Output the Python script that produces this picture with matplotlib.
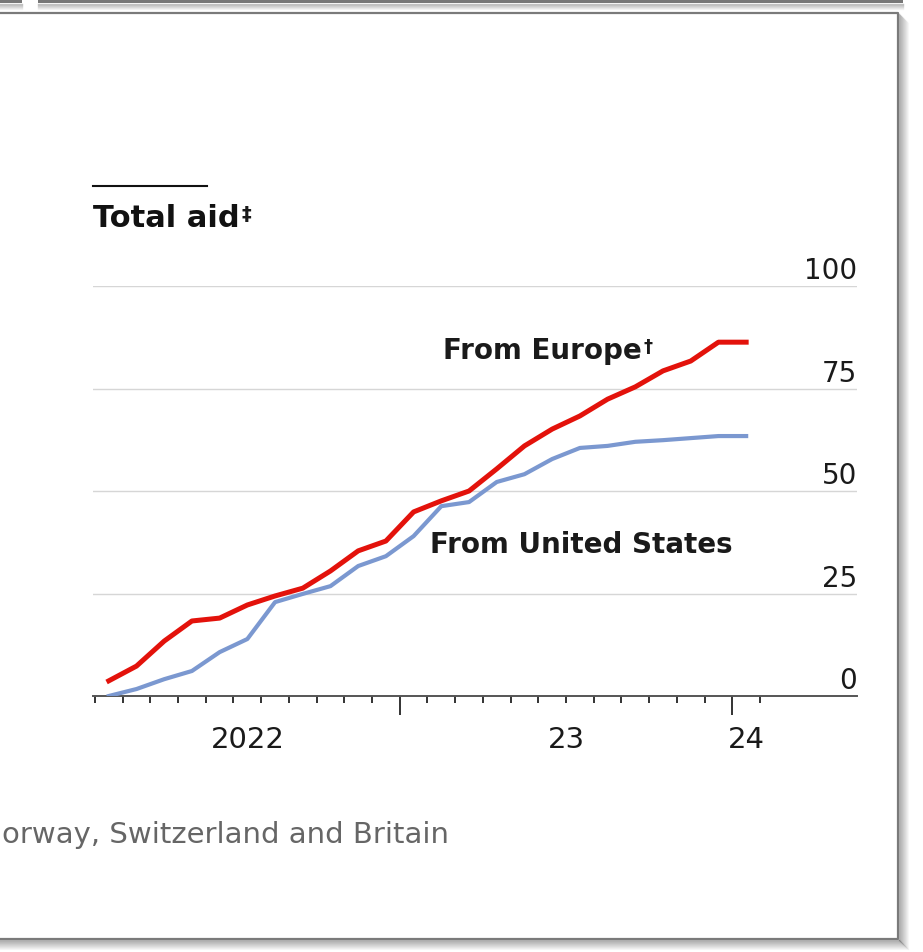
import matplotlib
matplotlib.use("Agg")
import matplotlib.pyplot as plt
from matplotlib.patches import Rectangle

# data: total aid, monthly readings (approx. mid-month)
dates = ["2022-02", "2022-03", "2022-04", "2022-05", "2022-06", "2022-07",
         "2022-08", "2022-09", "2022-10", "2022-11", "2022-12", "2023-01",
         "2023-02", "2023-03", "2023-04", "2023-05", "2023-06", "2023-07",
         "2023-08", "2023-09", "2023-10", "2023-11", "2023-12", "2024-01"]
europe = [3.7, 7.3, 13.4, 18.3, 19.0, 22.2, 24.4, 26.3, 30.5, 35.4, 37.8, 44.9,
          47.6, 50.0, 55.4, 61.0, 65.1, 68.3, 72.4, 75.4, 79.3, 81.7, 86.3, 86.3]
usa = [0.0, 1.7, 4.1, 6.1, 10.7, 13.9, 22.9, 24.9, 26.8, 31.7, 34.1, 39.0,
       46.3, 47.3, 52.2, 54.1, 57.8, 60.5, 61.0, 62.0, 62.4, 62.9, 63.4, 63.4]
y_ticks = [0, 25, 50, 75, 100]
year_labels = ["2022", "23", "24"]


def month_pos(s, day_frac=0.5):
    # months since Jan 1 2022
    y, m = s.split("-")
    return (int(y) - 2022) * 12 + int(m) - 1 + day_frac


x = [month_pos(d) for d in dates]

RED = "#e3120b"
BLUE = "#7b98d0"
INK = "#1a1a1a"

W, H = 923, 953
fig = plt.figure(figsize=(W / 100, H / 100), dpi=100)
fig.patch.set_facecolor("white")

ax = fig.add_axes([93 / W, (H - 697) / H, (857 - 93) / W, (697 - 287) / H])
ax.set_xlim(0.93, 28.5)
ax.set_ylim(0, 100)

ax.plot(x, usa, color=BLUE, lw=3.0, solid_joinstyle="round", zorder=3)
ax.plot(x, europe, color=RED, lw=3.6, solid_joinstyle="round", zorder=4)

for s in ["top", "right", "left"]:
    ax.spines[s].set_visible(False)
ax.spines["bottom"].set_color("#555555")
ax.spines["bottom"].set_linewidth(1.4)

ax.set_yticks(y_ticks)
ax.set_yticklabels([])
ax.tick_params(axis="y", length=0)
ax.grid(axis="y", color="#d6d6d6", lw=1.0)
ax.set_axisbelow(True)
for v in y_ticks:
    ax.text(1.0, v + 1.9, str(v), transform=ax.get_yaxis_transform(),
            ha="right", va="baseline", fontsize=20, color=INK)

# month ticks, bigger ticks at year starts
months = [month_pos(f"{2022 + (i - 1) // 12}-{(i - 1) % 12 + 1:02d}", 0) for i in range(2, 27)]
major = [m for m in months if m % 12 == 0]
minor = [m for m in months if m % 12 != 0]
ax.set_xticks(major)
ax.set_xticklabels([])
ax.set_xticks(minor, minor=True)
ax.tick_params(axis="x", which="major", length=14, width=1.4, color="#333333", direction="out")
ax.tick_params(axis="x", which="minor", length=5, width=1.4, color="#333333", direction="out")

for lab, pos in zip(year_labels, [6.5, 18.0, 24.5]):
    ax.text(pos, -0.105, lab, transform=ax.get_xaxis_transform(),
            ha="center", va="center", fontsize=21, color=INK)

t_eu = ax.text(13.56, 84.4, "From Europe", ha="left", va="center",
               fontsize=20, fontweight="bold", color=INK)
ax.text(13.09, 37.1, "From United States", ha="left", va="center",
        fontsize=20, fontweight="bold", color=INK)

# overlay in pixel coordinates for title, footnote and screenshot frame
ov = fig.add_axes([0, 0, 1, 1])
ov.set_xlim(0, W)
ov.set_ylim(H, 0)
ov.axis("off")

ov.plot([93, 207], [187, 187], color="#111111", lw=1.5)
t_title = ov.text(93, 227, "Total aid", ha="left", va="baseline",
                  fontsize=22, fontweight="bold", color="#111111")
ov.text(2, 843, "orway, Switzerland and Britain", ha="left", va="baseline",
        fontsize=21, color="#666666")

# superscript marks placed right after their words
fig.canvas.draw()
r = fig.canvas.get_renderer()
for t, mark, size in [(t_eu, "\u2020", 13), (t_title, "\u2021", 14)]:
    bb = t.get_window_extent(r)
    ov.text(bb.x1 + 2, H - bb.y1 + 1, mark, ha="left", va="top",
            fontsize=size, fontweight="bold", color=INK)

# frame and drop shadow
fx, fy_top, fy_bot = 898, 14, 940
for k in range(1, 11):
    a = 0.28 * (1 - k / 11)
    ov.plot([fx + k, fx + k], [fy_top + k, fy_bot + k], color="black", alpha=a, lw=1)
    ov.plot([0, fx + k], [fy_bot + k, fy_bot + k], color="black", alpha=a, lw=1)
ov.plot([0, fx, fx, 0], [fy_top, fy_top, fy_bot, fy_bot], color="#7a7a7a", lw=1.6)

# top strip of the frame above
ov.add_patch(Rectangle((0, 0), 22, 4, color="#777777", lw=0))
ov.add_patch(Rectangle((38, 0), 865, 4, color="#777777", lw=0))
for k in range(1, 7):
    a = 0.25 * (1 - k / 7)
    ov.plot([0, 22], [4 + k, 4 + k], color="black", alpha=a, lw=1)
    ov.plot([38, 903], [4 + k, 4 + k], color="black", alpha=a, lw=1)

fig.savefig("out.png", dpi=100, facecolor="white")
